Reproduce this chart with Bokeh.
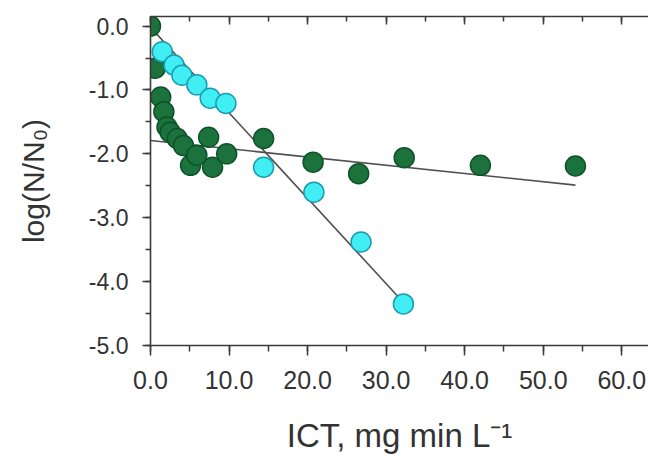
from bokeh.plotting import figure
from bokeh.models import (LinearAxis, SingleIntervalTicker, NumeralTickFormatter,
                          CustomJSTickFormatter, Range1d, ColumnDataSource)
from bokeh.embed import file_html
from bokeh.resources import INLINE

# ---------------- data ----------------
green_ict = [0.0, 0.6, 1.3, 1.7, 2.1, 2.5, 3.4, 4.2, 5.1, 5.9, 7.4, 7.9, 9.7,
             14.4, 20.7, 26.5, 32.3, 42.0, 54.1]
green_log = [0.0, -0.66, -1.11, -1.34, -1.58, -1.66, -1.76, -1.87, -2.18, -2.02,
             -1.74, -2.21, -2.00, -1.76, -2.13, -2.31, -2.06, -2.18, -2.19]

cyan_ict = [1.5, 3.0, 4.0, 5.9, 7.6, 9.6, 14.4, 20.8, 26.8, 32.2]
cyan_log = [-0.40, -0.61, -0.77, -0.92, -1.13, -1.21, -2.21, -2.60, -3.38, -4.35]

green_fit_x = [0.0, 54.1]
green_fit_y = [-1.79, -2.49]
cyan_fit_x = [0.0, 32.0]
cyan_fit_y = [-0.02, -4.30]

x_title = "ICT, mg min L\u207b\u00b9"
y_title = "log(N/N\u2080)"

# ---------------- layout ----------------
X0, X1 = 0.0, 63.4
Y0, Y1 = -5.0, 0.15
FRAME_LEFT, FRAME_TOP = 150, 16
FRAME_W, FRAME_H = 498, 329
W, H = 648, 458

FONT = "Liberation Sans"
TXT = "#333333"
AX = "#3a3a3a"

p = figure(width=W, height=H, x_range=Range1d(X0, X1), y_range=Range1d(Y0, Y1),
           output_backend="svg", toolbar_location=None,
           min_border_left=FRAME_LEFT, min_border_right=W - FRAME_LEFT - FRAME_W,
           min_border_top=FRAME_TOP,
           min_border_bottom=H - FRAME_TOP - FRAME_H)
p.grid.visible = False
p.outline_line_color = None
p.background_fill_color = "white"
p.border_fill_color = "white"

# bottom axis
xa = p.xaxis[0]
xa.ticker = SingleIntervalTicker(interval=10, num_minor_ticks=2)
xa.formatter = NumeralTickFormatter(format="0.0")
xa.major_tick_out = 10
xa.major_tick_in = 0
xa.minor_tick_out = 6
xa.minor_tick_in = 0
xa.major_label_standoff = 15
xa.major_label_text_font = FONT
xa.major_label_text_font_size = "25px"
xa.major_label_text_color = TXT
xa.axis_line_color = AX
xa.axis_line_width = 1.6
xa.major_tick_line_color = AX
xa.minor_tick_line_color = AX
xa.major_tick_line_width = 1.5
xa.minor_tick_line_width = 1.5
xa.axis_label = x_title
xa.axis_label_text_font = FONT
xa.axis_label_text_font_size = "33px"
xa.axis_label_text_font_style = "normal"
xa.axis_label_text_color = TXT
xa.axis_label_standoff = 25

# left axis
ya = p.yaxis[0]
ya.ticker = SingleIntervalTicker(interval=1, num_minor_ticks=2)
ya.formatter = NumeralTickFormatter(format="0.0")
ya.major_tick_out = 8
ya.major_tick_in = 0
ya.minor_tick_out = 5
ya.minor_tick_in = 0
ya.major_label_standoff = 14
ya.major_label_text_font = FONT
ya.major_label_text_font_size = "23px"
ya.major_label_text_color = TXT
ya.axis_line_color = AX
ya.axis_line_width = 1.6
ya.major_tick_line_color = AX
ya.minor_tick_line_color = AX
ya.major_tick_line_width = 1.5
ya.minor_tick_line_width = 1.5
ya.axis_label = y_title
ya.axis_label_text_font = FONT
ya.axis_label_text_font_size = "30px"
ya.axis_label_text_font_style = "normal"
ya.axis_label_text_color = TXT
ya.axis_label_standoff = 36

# top axis (frame line with inward ticks, no labels)
top = LinearAxis(ticker=SingleIntervalTicker(interval=10, num_minor_ticks=2),
                 formatter=CustomJSTickFormatter(code="return ''"),
                 major_label_standoff=0,
                 major_tick_in=8, major_tick_out=0, minor_tick_in=5, minor_tick_out=0,
                 axis_line_color=AX, axis_line_width=1.6,
                 major_tick_line_color=AX, minor_tick_line_color=AX,
                 major_tick_line_width=1.5, minor_tick_line_width=1.5)
p.add_layout(top, "above")

# fit lines
p.line(x=cyan_fit_x, y=cyan_fit_y, line_color="#505050", line_width=1.6)
p.line(x=green_fit_x, y=green_fit_y, line_color="#505050", line_width=1.6)

# points
gsrc = ColumnDataSource(dict(x=green_ict, y=green_log))
csrc = ColumnDataSource(dict(x=cyan_ict, y=cyan_log))
p.scatter(x="x", y="y", source=gsrc, size=20, fill_color="#1b723c",
          line_color="#0e5228", line_width=1.5)
p.scatter(x="x", y="y", source=csrc, size=20, fill_color="#40eef4",
          line_color="#1a9cb0", line_width=1.5)

open("out.html", "w").write(file_html(p, INLINE))
